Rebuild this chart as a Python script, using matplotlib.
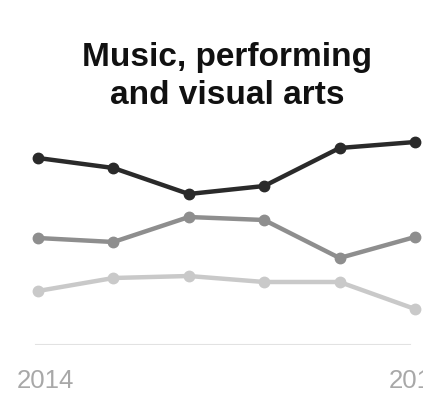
import matplotlib
matplotlib.use("Agg")
import matplotlib.pyplot as plt
import matplotlib.transforms as mtransforms

# values (arbitrary units, baseline = 0)
years = [2014, 2015, 2016, 2017, 2018, 2019]
dark_vals = [18.7, 17.7, 15.1, 15.9, 19.7, 20.3]
mid_vals = [10.7, 10.3, 12.8, 12.5, 8.7, 10.8]
light_vals = [5.4, 6.7, 6.9, 6.3, 6.3, 3.6]
tick_years = [2014, 2019]
tick_labels = ["2014", "2019"]

plt.rcParams["font.family"] = ["Liberation Sans", "DejaVu Sans"]

fig = plt.figure(figsize=(4.23, 4.04), dpi=100)
ax = fig.add_axes([0, 1 - 345 / 404, 1, (345 - 125) / 404])

for vals, col in [(light_vals, "#c9c9c9"), (mid_vals, "#8e8e8e"), (dark_vals, "#2a2a2a")]:
    ax.plot(years, vals, color=col, lw=3.2, marker="o", ms=7.5,
            solid_joinstyle="round", clip_on=False, zorder=3)

ax.axhline(0, xmin=36 / 423, xmax=410 / 423, color="#e2e2e2", lw=1.5, zorder=1)

px_per_year = (415 - 38) / 5
ax.set_xlim(2014 - 38 / px_per_year, 2014 + (423 - 38) / px_per_year)
ax.set_ylim(0, 22)

ax.set_xticks(tick_years)
ax.set_xticklabels(tick_labels, fontsize=18.5, color="#a8a8a8")
ax.tick_params(axis="x", length=0, pad=17)
# small horizontal nudges so the labels sit like in the original
for lbl, dx in zip(ax.get_xticklabels(), [7, 2]):
    lbl.set_transform(lbl.get_transform() +
                      mtransforms.ScaledTranslation(dx / 100, 0, fig.dpi_scale_trans))
ax.set_yticks([])
for s in ax.spines.values():
    s.set_visible(False)

fig.text(227 / 423, 1 - 42 / 404, "Music, performing\nand visual arts",
         ha="center", va="top", fontsize=24, fontweight="bold",
         color="#111111", linespacing=1.28)

fig.savefig("out.png", dpi=100)
